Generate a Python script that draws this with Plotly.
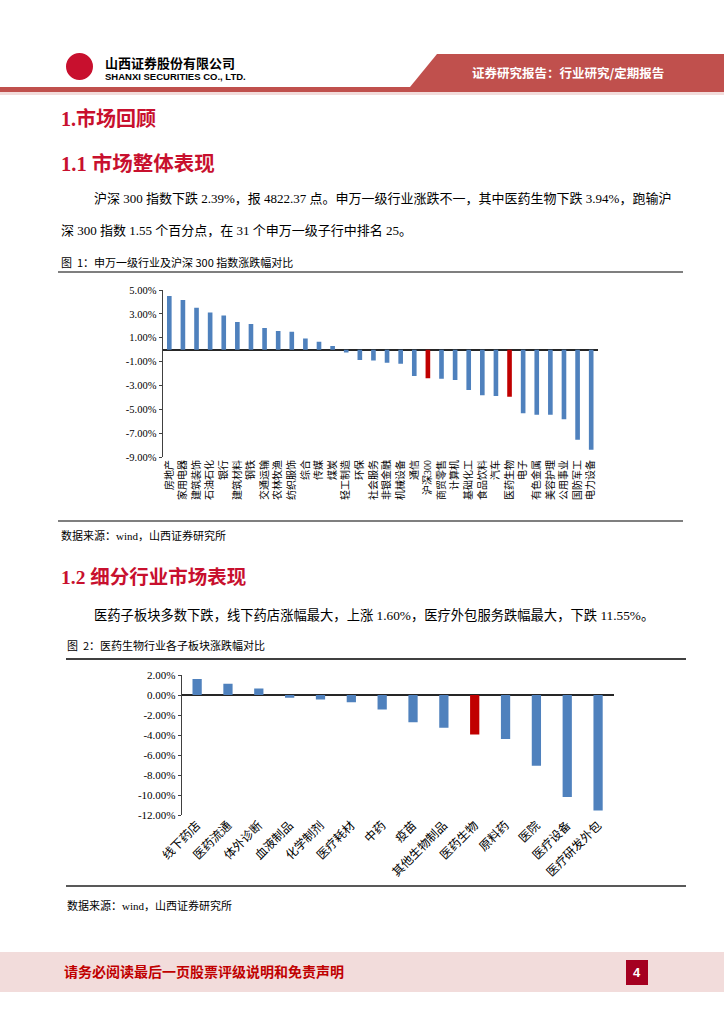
import plotly.graph_objects as go

# ---------------- data ----------------
industries = ["房地产", "家用电器", "建筑装饰", "石油石化", "银行", "建筑材料", "钢铁", "交通运输",
              "农林牧渔", "纺织服饰", "综合", "传媒", "煤炭", "轻工制造", "环保", "社会服务",
              "非银金融", "机械设备", "通信", "沪深300", "商贸零售", "计算机", "基础化工", "食品饮料",
              "汽车", "医药生物", "电子", "有色金属", "美容护理", "公用事业", "国防军工", "电力设备"]
industry_chg = [4.49, 4.16, 3.51, 3.12, 2.87, 2.31, 2.14, 1.81, 1.56, 1.50, 0.94, 0.66, 0.30,
                -0.23, -0.87, -0.90, -1.10, -1.18, -2.22, -2.39, -2.43, -2.55, -3.39, -3.83,
                -3.88, -3.94, -5.34, -5.45, -5.45, -5.84, -7.55, -8.39]
highlight1 = ["沪深300", "医药生物"]

sub_sectors = ["线下药店", "医药流通", "体外诊断", "血液制品", "化学制剂", "医疗耗材", "中药", "疫苗",
               "其他生物制品", "医药生物", "原料药", "医院", "医疗设备", "医疗研发外包"]
sub_chg = [1.60, 1.12, 0.65, -0.28, -0.45, -0.72, -1.45, -2.72, -3.28, -3.94, -4.40, -7.07,
           -10.20, -11.55]
highlight2 = ["医药生物"]

y1_ticks = [5, 3, 1, -1, -3, -5, -7, -9]
y2_ticks = [2, 0, -2, -4, -6, -8, -10, -12]

# ---------------- helpers ----------------
W, H = 724, 1024
BLUE = "#4F81BD"
RED = "#C00000"
CRIMSON = "#C8102E"
SERIF = "Liberation Serif, Times New Roman, Noto Sans CJK SC"
SANS = "Noto Sans CJK SC, Liberation Sans"


def px(x):
    return x / W


def py(y):
    return 1 - y / H


annotations = []
shapes = []


def text(x, y, s, size=13, color="#000000", family=SERIF, anchor="left", bold=False):
    if bold:
        s = "<b>" + s + "</b>"
    annotations.append(dict(x=px(x), y=py(y), xref="paper", yref="paper", text=s,
                            showarrow=False, xanchor=anchor, yanchor="middle",
                            font=dict(size=size, color=color, family=family)))


def rect(x0, y0, x1, y1, fill, line=None):
    shapes.append(dict(type="rect", xref="paper", yref="paper", x0=px(x0), x1=px(x1),
                       y0=py(y0), y1=py(y1), fillcolor=fill,
                       line=dict(width=0) if line is None else line, layer="below"))


def hline(x0, x1, y, color, width):
    shapes.append(dict(type="line", xref="paper", yref="paper", x0=px(x0), x1=px(x1),
                       y0=py(y), y1=py(y), line=dict(color=color, width=width)))


fig = go.Figure()

fig.add_trace(go.Bar(x=industries, y=industry_chg, xaxis="x", yaxis="y", width=0.34,
                     marker=dict(color=[RED if c in highlight1 else BLUE for c in industries],
                                 line=dict(width=0)),
                     showlegend=False, hoverinfo="x+y"))
fig.add_trace(go.Bar(x=sub_sectors, y=sub_chg, xaxis="x2", yaxis="y2", width=0.3,
                     marker=dict(color=[RED if c in highlight2 else BLUE for c in sub_sectors],
                                 line=dict(width=0)),
                     showlegend=False, hoverinfo="x+y"))

# ---------------- page decoration ----------------
# header logo
shapes.append(dict(type="circle", xref="paper", yref="paper", x0=px(66), x1=px(93),
                   y0=py(80), y1=py(53), fillcolor=CRIMSON, line=dict(width=0)))
rect(71, 58, 88, 75, "#FFFFFF")
rect(73.5, 60.5, 85.5, 72.5, CRIMSON)
rect(76, 63, 83, 70, "#FFFFFF")
rect(77.5, 64.5, 81.5, 68.5, CRIMSON)
rect(78.5, 53, 80.5, 58, "#FFFFFF")
rect(78.5, 75, 80.5, 80, "#FFFFFF")
text(103, 62, "山西证券股份有限公司", size=13, family=SANS, bold=True)
text(103, 76, "SHANXI SECURITIES CO., LTD.", size=9.5, family="Liberation Sans", bold=True)

# header red parallelogram
shapes.append(dict(type="path", xref="paper", yref="paper",
                   path=f"M {px(437)},{py(54)} L {px(724)},{py(54)} L {px(724)},{py(87)} L {px(410)},{py(87)} Z",
                   fillcolor="#C0504D", line=dict(width=0)))
text(568, 72, "证券研究报告：行业研究/定期报告", size=12.5, color="#FFFFFF", family=SANS,
     anchor="center", bold=True)
rect(0, 87, 724, 92, "#C0504D")
rect(0, 92, 724, 95, "#F2DCDB")

# headings / text
text(59, 118, "1.市场回顾", size=20, color=CRIMSON, family=SERIF, bold=True)
text(59, 163, "1.1 市场整体表现", size=20.5, color=CRIMSON, family=SERIF, bold=True)
text(92, 198, "沪深 300 指数下跌 2.39%，报 4822.37 点。申万一级行业涨跌不一，其中医药生物下跌 3.94%，跑输沪",
     size=13)
text(59, 230, "深 300 指数 1.55 个百分点，在 31 个申万一级子行中排名 25。", size=13)
text(59, 262, "图  1：申万一级行业及沪深 300 指数涨跌幅对比", size=11, family=SANS)
hline(58, 683, 272, "#7F7F7F", 2)
hline(58, 683, 521, "#7F7F7F", 2)
text(59, 535, "数据来源：wind，山西证券研究所", size=11, family=SERIF)

text(59, 577, "1.2 细分行业市场表现", size=19.5, color=CRIMSON, family=SERIF, bold=True)
text(92, 615, "医药子板块多数下跌，线下药店涨幅最大，上涨 1.60%，医疗外包服务跌幅最大，下跌 11.55%。",
     size=13.3)
text(65, 645, "图  2：医药生物行业各子板块涨跌幅对比", size=11, family=SANS)
hline(66, 686, 659, "#000000", 1.5)
hline(66, 686, 886, "#595959", 2)
text(65, 905, "数据来源：wind，山西证券研究所", size=11, family=SERIF)

# footer
rect(0, 952, 724, 992, "#F2DCDB")
text(62, 972, "请务必阅读最后一页股票评级说明和免责声明", size=14, color=RED, family=SERIF, bold=True)
rect(626, 960, 648, 985, "#A50021")
text(637, 972, "4", size=13, color="#FFFFFF", family="Liberation Sans", anchor="center", bold=True)

axis_common = dict(showgrid=False, fixedrange=True, automargin=False)

fig.update_layout(
    width=W, height=H, margin=dict(l=0, r=0, t=0, b=0, pad=0), autosize=False,
    paper_bgcolor="#FFFFFF", plot_bgcolor="rgba(0,0,0,0)",
    showlegend=False, barmode="group",
    annotations=annotations, shapes=shapes,
    xaxis=dict(domain=[px(162.5), px(598)], anchor="y", type="category",
               showline=False, ticks="", tickangle=-90,
               tickfont=dict(size=10, family=SERIF, color="#000000"), **axis_common),
    yaxis=dict(domain=[py(457), py(290)], anchor="x", range=[-9, 5],
               tickvals=y1_ticks, ticktext=[f"{v:.2f}%" for v in y1_ticks],
               showline=True, linecolor="#404040", linewidth=1, ticks="outside", ticklen=3,
               tickcolor="#404040", zeroline=True, zerolinecolor="#262626", zerolinewidth=1.5,
               tickfont=dict(size=10.5, family=SERIF, color="#000000"), **axis_common),
    xaxis2=dict(domain=[px(181.7), px(613.5)], anchor="y2", type="category",
                showline=False, ticks="", tickangle=-45,
                tickfont=dict(size=12, family=SERIF, color="#000000"), **axis_common),
    yaxis2=dict(domain=[py(815), py(675)], anchor="x2", range=[-12, 2],
                tickvals=y2_ticks, ticktext=[f"{v:.2f}%" for v in y2_ticks],
                showline=True, linecolor="#404040", linewidth=1, ticks="outside", ticklen=3,
                tickcolor="#404040", zeroline=True, zerolinecolor="#262626", zerolinewidth=1.5,
                tickfont=dict(size=11, family=SERIF, color="#000000"), **axis_common),
)

fig.write_html("out.html", config={"displayModeBar": False},
               post_script="document.body.style.margin='0';document.body.style.padding='0';")
